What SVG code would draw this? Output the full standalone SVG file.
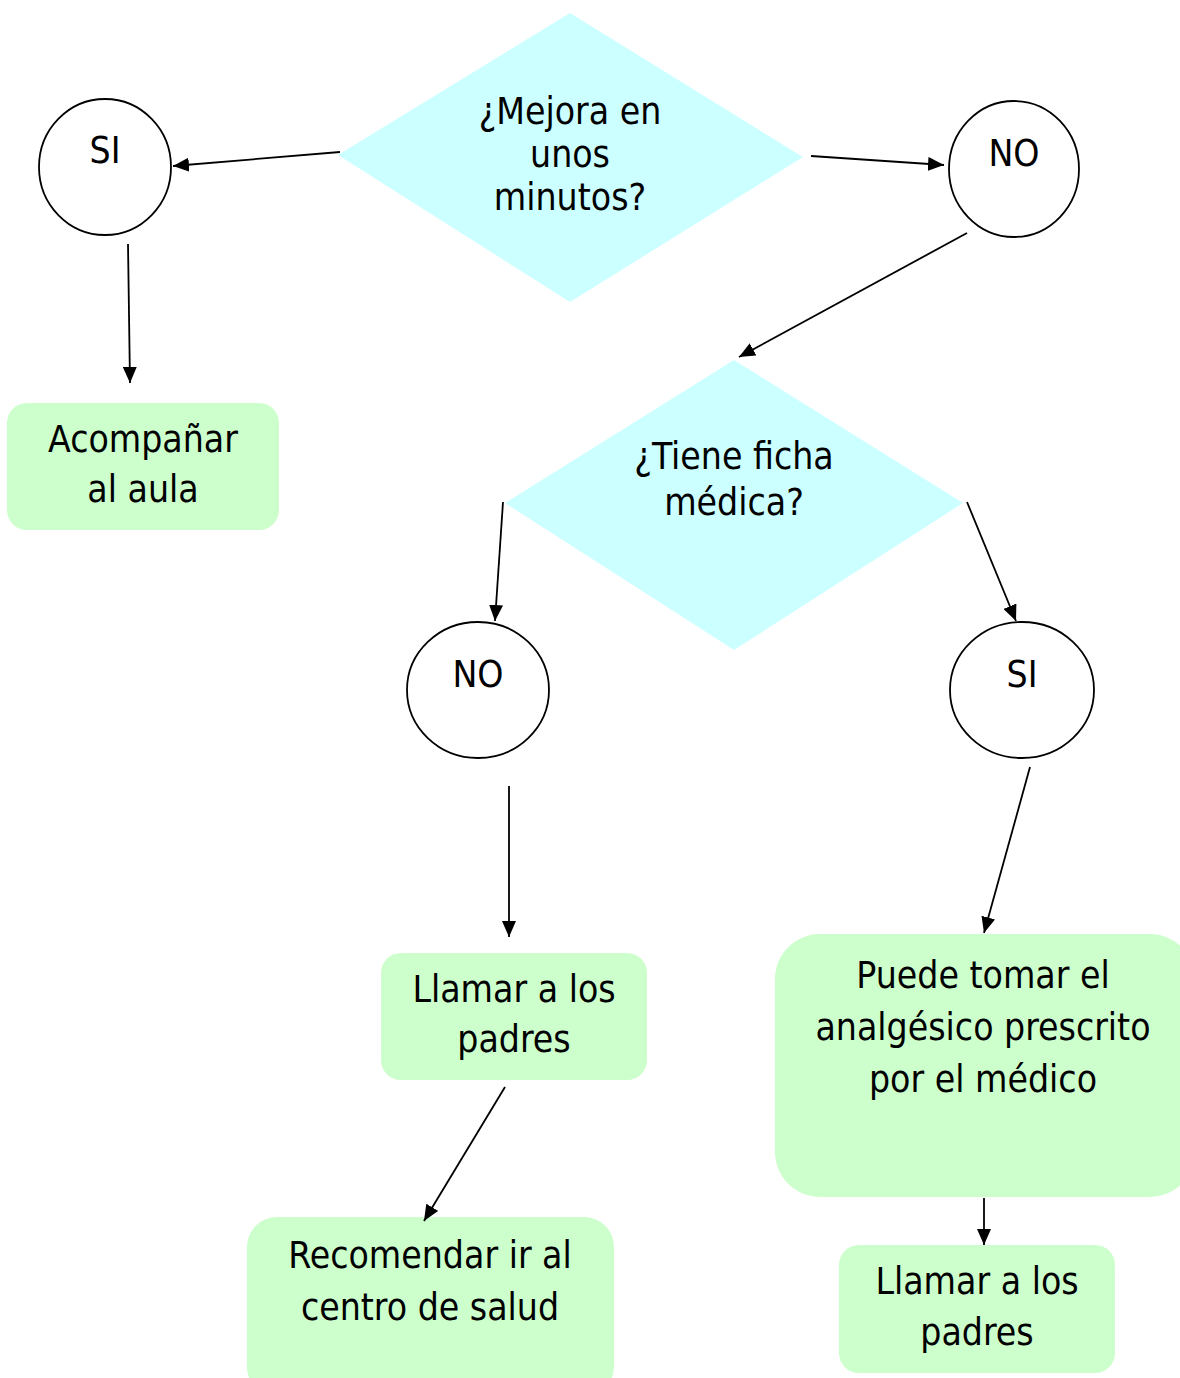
<svg xmlns="http://www.w3.org/2000/svg" width="1180" height="1378" viewBox="0 0 1180 1378">
<defs>
<marker id="ah" viewBox="0 0 16 14" refX="16" refY="7" markerWidth="16" markerHeight="14" markerUnits="userSpaceOnUse" orient="auto">
<path d="M0,0 L16,7 L0,14 z" fill="#000"/>
</marker>
<style>
.t{font-family:"DejaVu Sans Condensed","DejaVu Sans",sans-serif;font-size:37px;fill:#000;text-anchor:middle}
.dia{fill:#CCFFFF}
.box{fill:#CCFFCC}
.circ{fill:#fff;stroke:#000;stroke-width:1.8}
.c{stroke:#000;stroke-width:1.8;fill:none;marker-end:url(#ah)}
</style>
</defs>
<rect width="1180" height="1378" fill="#fff"/>
<g id="d1"><polygon class="dia" points="570,13 803,157 570,302 338,155"/>
<text class="t" x="570" y="124">¿Mejora en</text><text class="t" x="570" y="167">unos</text><text class="t" x="570" y="210">minutos?</text></g>
<g id="si1"><ellipse class="circ" cx="105" cy="167" rx="66" ry="68"/><text class="t" x="105" y="163">SI</text></g>
<g id="no1"><ellipse class="circ" cx="1014" cy="169" rx="65" ry="68"/><text class="t" x="1014" y="166">NO</text></g>
<g id="acomp"><rect class="box" x="7" y="403" width="272" height="127" rx="20"/>
<text class="t" x="143" y="452">Acompañar</text><text class="t" x="143" y="502">al aula</text></g>
<g id="d2"><polygon class="dia" points="734,360 963,503 734,650 505,503"/>
<text class="t" x="734" y="469">¿Tiene ficha</text><text class="t" x="734" y="515">médica?</text></g>
<g id="no2"><ellipse class="circ" cx="478" cy="690" rx="71" ry="68"/><text class="t" x="478" y="687">NO</text></g>
<g id="si2"><ellipse class="circ" cx="1022" cy="690" rx="72" ry="68"/><text class="t" x="1022" y="687">SI</text></g>
<g id="llamar1"><rect class="box" x="381" y="953" width="266" height="127" rx="20"/>
<text class="t" x="514" y="1002">Llamar a los</text><text class="t" x="514" y="1052">padres</text></g>
<g id="recom"><rect class="box" x="247" y="1217" width="367" height="180" rx="30"/>
<text class="t" x="430" y="1268">Recomendar ir al</text><text class="t" x="430" y="1320">centro de salud</text></g>
<g id="puede"><rect class="box" x="775" y="934" width="420" height="263" rx="45"/>
<text class="t" x="983" y="988">Puede tomar el</text><text class="t" x="983" y="1040">analgésico prescrito</text><text class="t" x="983" y="1092">por el médico</text></g>
<g id="llamar2"><rect class="box" x="839" y="1245" width="276" height="128" rx="20"/>
<text class="t" x="977" y="1294">Llamar a los</text><text class="t" x="977" y="1345">padres</text></g>
<g id="connectors">
<line class="c" x1="340" y1="152" x2="173" y2="166"/>
<line class="c" x1="811" y1="156" x2="944" y2="165"/>
<line class="c" x1="128" y1="244" x2="130" y2="383"/>
<line class="c" x1="967" y1="233" x2="739" y2="357"/>
<line class="c" x1="503" y1="502" x2="495" y2="621"/>
<line class="c" x1="967" y1="502" x2="1016" y2="621"/>
<line class="c" x1="509" y1="786" x2="509" y2="937"/>
<line class="c" x1="1030" y1="767" x2="984" y2="933"/>
<line class="c" x1="505" y1="1087" x2="424" y2="1221"/>
<line class="c" x1="984" y1="1198" x2="984" y2="1245"/>
</g>
</svg>
